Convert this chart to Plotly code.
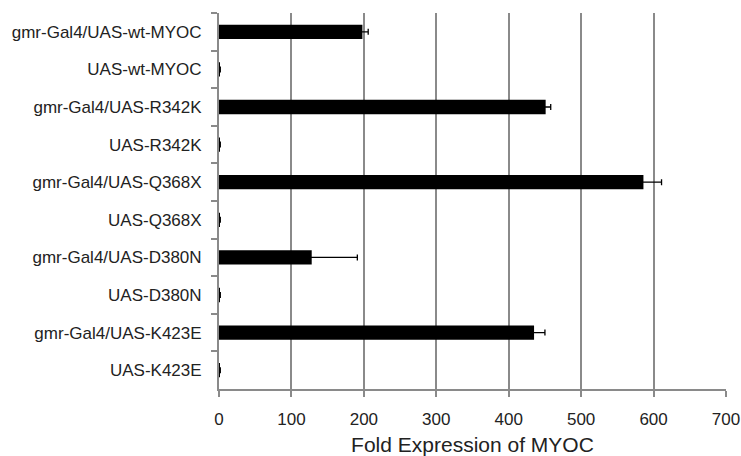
import plotly.graph_objects as go

categories = [
    "gmr-Gal4/UAS-wt-MYOC", "UAS-wt-MYOC",
    "gmr-Gal4/UAS-R342K", "UAS-R342K",
    "gmr-Gal4/UAS-Q368X", "UAS-Q368X",
    "gmr-Gal4/UAS-D380N", "UAS-D380N",
    "gmr-Gal4/UAS-K423E", "UAS-K423E",
]
fold_expression = [198, 1, 451, 1, 586, 1, 128, 1, 435, 1]
error_values = [8, 0.8, 7, 0.8, 25, 0.8, 63, 0.8, 15, 0.8]
x_ticks = [0, 100, 200, 300, 400, 500, 600, 700]

grid_color = "#8a8a8a"
font_family = "Liberation Sans, Arial, sans-serif"

fig = go.Figure(go.Bar(
    x=fold_expression, y=categories, orientation="h",
    marker=dict(color="black", line=dict(width=0)),
    width=0.38,
    error_x=dict(type="data", array=error_values, visible=True,
                 color="black", thickness=1.3, width=3),
))

fig.update_layout(
    width=741, height=456,
    margin=dict(l=219, r=15, t=13, b=67),
    paper_bgcolor="white", plot_bgcolor="white",
    font=dict(family=font_family, color="#222222", size=17),
    showlegend=False,
)
fig.update_xaxes(
    range=[0, 700], tickvals=x_ticks, ticktext=[str(v) for v in x_ticks],
    showgrid=True, gridcolor=grid_color, gridwidth=2,
    showline=True, linecolor=grid_color, linewidth=2,
    ticks="outside", ticklen=6, tickcolor=grid_color, tickwidth=2,
    zeroline=False, automargin=False,
    tickfont=dict(size=17),
    ticklabelstandoff=8,
    title=dict(text="Fold Expression of MYOC", font=dict(size=21), standoff=12),
)
fig.update_yaxes(
    autorange="reversed", type="category",
    showline=True, linecolor=grid_color, linewidth=2,
    ticks="outside", tickson="boundaries", ticklen=6, tickcolor=grid_color, tickwidth=2,
    showgrid=False, automargin=False,
    tickfont=dict(size=17),
    ticklabelstandoff=12,
)

fig.write_html(
    "out.html",
    config={"displayModeBar": False},
    post_script="document.body.style.margin='0';document.body.style.overflow='hidden';",
)
